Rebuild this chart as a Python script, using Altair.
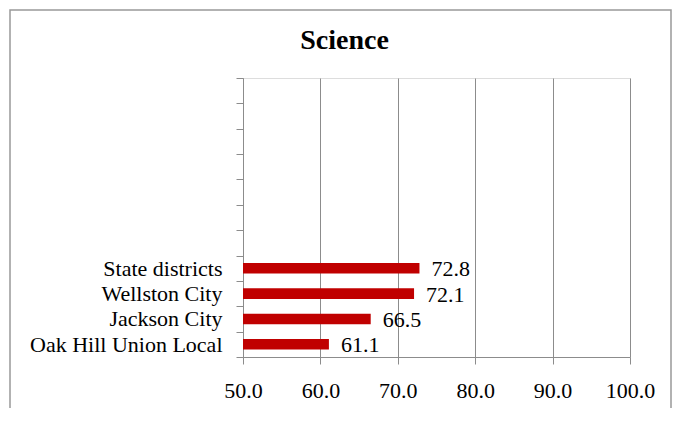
import altair as alt
import pandas as pd

categories = ["State districts", "Wellston City", "Jackson City", "Oak Hill Union Local"]
values = [72.8, 72.1, 66.5, 61.1]
blank_slots = [" " * (i + 1) for i in range(7)]
x_ticks = [50, 60, 70, 80, 90, 100]
chart_title = "Science"

df = pd.DataFrame({"name": categories, "score": values})
domain = blank_slots + categories

FONT = "Liberation Serif"
GRAY = "#8c8c8c"

y_enc = alt.Y("name:N", scale=alt.Scale(domain=domain, paddingInner=0, paddingOuter=0),
              axis=alt.Axis(title=None, tickBand="extent", labelFont=FONT, labelFontSize=22,
                            labelColor="black", labelPadding=14, tickSize=7, tickColor=GRAY,
                            domainColor=GRAY, grid=False, labelLimit=400))
x_scale = alt.Scale(domain=[50, 100], nice=False, zero=False)

bars = alt.Chart(df).mark_bar(color="#C00000", size=10.6).encode(
    x=alt.X("score:Q", scale=x_scale,
            axis=alt.Axis(title=None, values=x_ticks, format=".1f", labelFont=FONT,
                          labelFontSize=22, labelColor="black", labelPadding=16, tickSize=7,
                          tickColor=GRAY, domainColor=GRAY, gridColor=GRAY, grid=True,
                          labelFlush=False)),
    x2=alt.datum(50),
    y=y_enc,
)

labels = alt.Chart(df).mark_text(align="left", baseline="middle", dx=12, dy=1, font=FONT,
                                 fontSize=22, color="black").encode(
    x=alt.X("score:Q", scale=x_scale),
    y=alt.Y("name:N", scale=alt.Scale(domain=domain)),
    text=alt.Text("score:Q", format=".1f"),
)

border = alt.Chart(alt.Data(values=[{}])).mark_rect(
    fill=None, stroke="#999999", strokeWidth=1.5).encode(
    x=alt.value(-233), x2=alt.value(428), y=alt.value(-68), y2=alt.value(400),
)

title = alt.Chart(alt.Data(values=[{"t": chart_title}])).mark_text(
    font=FONT, fontSize=28, fontWeight="bold", color="black", align="center",
    baseline="alphabetic").encode(
    x=alt.value(101.5), y=alt.value(-29), text="t:N",
)

chart = alt.layer(border, bars, labels, title).properties(
    width=387, height=279,
    autosize=alt.AutoSizeParams(type="none"),
    padding={"left": 235, "top": 70, "right": 42, "bottom": 51},
).configure_view(stroke=None).configure(background="white")

chart.save("out.html", embed_options={"renderer": "svg", "actions": False})
